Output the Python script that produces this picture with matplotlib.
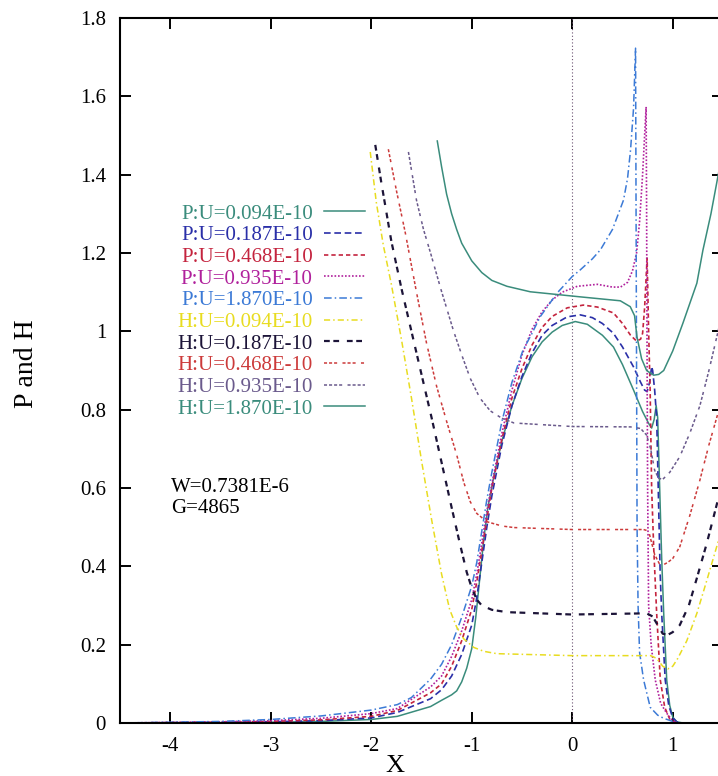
import matplotlib
matplotlib.use("Agg")
import matplotlib.pyplot as plt
from matplotlib.ticker import FormatStrFormatter, MultipleLocator

plt.rcParams["font.family"] = ["Liberation Serif", "DejaVu Serif"]

# pressure curves P
p1_x = [-4.5, -3.5, -3.0, -2.5, -2.0, -1.74, -1.41, -1.3, -1.2, -1.15, -1.1, -1.05, -1.0,
        -0.96, -0.92, -0.88, -0.84, -0.78, -0.7, -0.6, -0.5, -0.4, -0.3, -0.2, -0.1, 0.03,
        0.15, 0.3, 0.41, 0.5, 0.61, 0.7, 0.76, 0.79, 0.815, 0.835, 0.85, 0.87, 0.89, 0.91,
        0.94, 0.97, 1.0, 1.04, 1.1, 1.5]
p1_y = [0.0, 0.001, 0.002, 0.004, 0.009, 0.017, 0.042, 0.058, 0.072, 0.082, 0.105, 0.14, 0.19,
        0.27, 0.37, 0.47, 0.55, 0.63, 0.72, 0.81, 0.88, 0.935, 0.973, 0.998, 1.015, 1.025,
        1.018, 0.99, 0.96, 0.915, 0.85, 0.795, 0.765, 0.753, 0.775, 0.81, 0.78, 0.6, 0.42, 0.28,
        0.11, 0.045, 0.015, 0.003, 0.0, 0.0]

p2_x = [-4.5, -3.5, -3.0, -2.5, -2.0, -1.74, -1.41, -1.3, -1.2, -1.1, -1.0, -0.95, -0.9,
        -0.85, -0.8, -0.7, -0.6, -0.5, -0.4, -0.3, -0.2, -0.05, 0.08, 0.2, 0.3, 0.41, 0.5,
        0.61, 0.68, 0.72, 0.745, 0.77, 0.79, 0.80, 0.82, 0.84, 0.86, 0.875, 0.89, 0.925, 0.96,
        1.0, 1.04, 1.1, 1.5]
p2_y = [0.0, 0.002, 0.003, 0.006, 0.013, 0.027, 0.062, 0.085, 0.12, 0.175, 0.25, 0.32, 0.41,
        0.5, 0.58, 0.71, 0.81, 0.885, 0.945, 0.99, 1.015, 1.037, 1.042, 1.035, 1.02, 0.995, 0.96,
        0.909, 0.87, 0.85, 0.846, 0.87, 0.91, 0.90, 0.85, 0.78, 0.55, 0.38, 0.28, 0.11, 0.045,
        0.013, 0.003, 0.0, 0.0]

p3_x = [-4.5, -3.5, -3.0, -2.5, -2.0, -1.74, -1.41, -1.3, -1.2, -1.1, -1.0, -0.95, -0.9,
        -0.85, -0.8, -0.7, -0.6, -0.5, -0.4, -0.3, -0.2, -0.05, 0.11, 0.25, 0.41, 0.5, 0.58,
        0.64, 0.68, 0.70, 0.72, 0.745, 0.76, 0.775, 0.79, 0.81, 0.84, 0.876, 0.92, 0.97, 1.02,
        1.08, 1.5]
p3_y = [0.0, 0.002, 0.004, 0.008, 0.017, 0.032, 0.077, 0.10, 0.145, 0.21, 0.29, 0.36, 0.44,
        0.52, 0.60, 0.725, 0.83, 0.905, 0.965, 1.01, 1.038, 1.06, 1.067, 1.062, 1.047, 1.02, 0.99,
        0.975, 0.98, 0.995, 1.06, 1.187, 1.0, 0.85, 0.6, 0.45, 0.28, 0.11, 0.04, 0.01, 0.002,
        0.0, 0.0]

p4_x = [-4.5, -3.5, -3.0, -2.5, -2.0, -1.74, -1.41, -1.3, -1.2, -1.1, -1.0, -0.95, -0.9,
        -0.85, -0.8, -0.7, -0.6, -0.5, -0.4, -0.3, -0.2, -0.1, 0.05, 0.25, 0.4, 0.48, 0.55,
        0.6, 0.64, 0.67, 0.70, 0.72, 0.735, 0.74, 0.745, 0.75, 0.76, 0.785, 0.826, 0.88, 0.94,
        1.0, 1.05, 1.5]
p4_y = [0.0, 0.003, 0.006, 0.012, 0.024, 0.037, 0.092, 0.12, 0.17, 0.235, 0.315, 0.38, 0.46,
        0.54, 0.61, 0.74, 0.85, 0.94, 1.005, 1.05, 1.08, 1.1, 1.115, 1.12, 1.113, 1.113, 1.125,
        1.155, 1.2, 1.28, 1.4, 1.5, 1.573, 1.3, 0.9, 0.6, 0.3, 0.2, 0.11, 0.05, 0.025, 0.005,
        0.0, 0.0]

p5_x = [-4.5, -4.0, -3.5, -3.0, -2.5, -2.0, -1.74, -1.6, -1.41, -1.3, -1.2, -1.1, -1.0,
        -0.95, -0.9, -0.85, -0.8, -0.7, -0.6, -0.49, -0.4, -0.32, -0.15, 0.0, 0.08, 0.2, 0.28,
        0.4, 0.51, 0.55, 0.58, 0.61, 0.63, 0.635, 0.64, 0.645, 0.655, 0.67, 0.71, 0.776, 0.85,
        0.91, 1.0, 1.06, 1.5]
p5_y = [0.0, 0.002, 0.004, 0.009, 0.018, 0.033, 0.047, 0.065, 0.112, 0.15, 0.20, 0.27, 0.35,
        0.41, 0.49, 0.57, 0.64, 0.77, 0.87, 0.952, 0.995, 1.037, 1.098, 1.14, 1.157, 1.185,
        1.208, 1.26, 1.335, 1.39, 1.463, 1.57, 1.723, 1.3, 0.9, 0.5, 0.3, 0.18, 0.11, 0.04,
        0.02, 0.012, 0.004, 0.0, 0.0]

# film thickness curves H
h1_x = [-2.01, -1.95, -1.88, -1.80, -1.70, -1.60, -1.50, -1.40, -1.30, -1.22, -1.15, -1.08,
        -0.98, -0.88, -0.75, 0.0, 0.78, 0.84, 0.90, 0.95, 1.0, 1.05, 1.14, 1.24, 1.34, 1.46]
h1_y = [1.458, 1.33, 1.22, 1.12, 0.98, 0.83, 0.67, 0.52, 0.38, 0.29, 0.245, 0.215,
        0.193, 0.183, 0.177, 0.172, 0.172, 0.165, 0.145, 0.138, 0.145, 0.165, 0.21, 0.28,
        0.365, 0.47]

h2_x = [-1.96, -1.90, -1.80, -1.70, -1.60, -1.50, -1.40, -1.30, -1.20, -1.12, -1.05, -1.0,
        -0.95, -0.9, -0.8, -0.65, 0.0, 0.74, 0.80, 0.85, 0.90, 0.95, 1.0, 1.07, 1.16, 1.24,
        1.34, 1.46]
h2_y = [1.476, 1.38, 1.23, 1.11, 1.0, 0.89, 0.78, 0.665, 0.55, 0.46, 0.385, 0.345,
        0.315, 0.30, 0.289, 0.283, 0.277, 0.28, 0.272, 0.25, 0.228, 0.225, 0.232, 0.25, 0.30,
        0.37, 0.46, 0.58]

h3_x = [-1.83, -1.75, -1.66, -1.55, -1.45, -1.35, -1.25, -1.15, -1.08, -1.015, -0.95,
        -0.85, -0.7, -0.58, 0.0, 0.71, 0.76, 0.78, 0.82, 0.87, 0.90, 0.95, 1.0, 1.07, 1.17,
        1.27, 1.36, 1.46]
h3_y = [1.465, 1.36, 1.25, 1.10, 0.97, 0.86, 0.77, 0.685, 0.615, 0.565, 0.535,
        0.514, 0.503, 0.499, 0.494, 0.494, 0.49, 0.47, 0.43, 0.405, 0.403, 0.41, 0.42, 0.45,
        0.53, 0.62, 0.71, 0.80]

h4_x = [-1.63, -1.55, -1.48, -1.41, -1.31, -1.18, -1.1, -1.015, -0.92, -0.816, -0.7, -0.58,
        0.0, 0.58, 0.68, 0.74, 0.78, 0.82, 0.86, 0.90, 0.97, 1.07, 1.17, 1.27, 1.36, 1.46]
h4_y = [1.458, 1.335, 1.26, 1.20, 1.11, 1.0, 0.94, 0.88, 0.83, 0.797, 0.778, 0.766,
        0.757, 0.756, 0.752, 0.735, 0.70, 0.645, 0.625, 0.622, 0.64, 0.68, 0.74, 0.81, 0.90,
        1.01]

h5_x = [-1.343, -1.30, -1.25, -1.20, -1.15, -1.10, -1.0, -0.9, -0.8, -0.65, -0.418, 0.08,
        0.478, 0.577, 0.62, 0.644, 0.69, 0.74, 0.81, 0.86, 0.91, 1.0, 1.1, 1.24, 1.30, 1.38,
        1.46]
h5_y = [1.486, 1.42, 1.35, 1.30, 1.26, 1.225, 1.18, 1.15, 1.13, 1.115, 1.101, 1.088,
        1.078, 1.063, 1.04, 0.986, 0.93, 0.90, 0.888, 0.89, 0.90, 0.95, 1.02, 1.123, 1.207,
        1.30, 1.41]

labels = ["P:U=0.094E-10", "P:U=0.187E-10", "P:U=0.468E-10", "P:U=0.935E-10",
          "P:U=1.870E-10", "H:U=0.094E-10", "H:U=0.187E-10", "H:U=0.468E-10",
          "H:U=0.935E-10", "H:U=1.870E-10"]
series_x = [p1_x, p2_x, p3_x, p4_x, p5_x, h1_x, h2_x, h3_x, h4_x, h5_x]
series_y = [p1_y, p2_y, p3_y, p4_y, p5_y, h1_y, h2_y, h3_y, h4_y, h5_y]

COLORS = ["#3a8c7c", "#2a2fa8", "#c4243e", "#b0209c", "#3c7ad6",
          "#e8dc20", "#1c1438", "#cc3a3a", "#6a5a8c", "#3a8c7c"]
DASHES = [None, (4, 2.2), (2.6, 1.8), (1, 1.1), (5, 2, 1, 2),
          (4, 2, 1, 2), (2.6, 1.6, 2.6, 3.5), (2, 1.3, 2, 1.3, 2, 3.5),
          (2, 1.3, 2, 1.3, 2, 1.3, 2, 3.5), None]
WIDTHS = [1.1, 1.2, 1.2, 1.2, 1.1, 1.1, 1.6, 1.1, 1.1, 1.1]

fig = plt.figure(figsize=(7.18, 7.76), dpi=100)
ax = fig.add_axes([120 / 718, 53 / 776, 603 / 718, 705 / 776])

ax.axvline(0, color="#6a5070", linestyle=(0, (1, 2)), linewidth=0.8)

for xs, ys, lab, c, d, w in zip(series_x, series_y, labels, COLORS, DASHES, WIDTHS):
    line, = ax.plot(xs, ys, color=c, linewidth=w, label=lab)
    if d is not None:
        line.set_dashes(d)

ax.set_xlim(-4.5, 1.5)
ax.set_ylim(0, 1.8)
ax.xaxis.set_major_locator(MultipleLocator(1))
ax.yaxis.set_major_locator(MultipleLocator(0.2))
ax.xaxis.set_major_formatter(FormatStrFormatter("%g"))
ax.yaxis.set_major_formatter(FormatStrFormatter("%g"))
ax.tick_params(direction="in", length=8, width=1.4, top=True, right=True,
               labelsize=15, pad=10)
for s in ax.spines.values():
    s.set_linewidth(1.5)

ax.set_xlabel("X", fontsize=19)
ax.xaxis.set_label_coords(0.456, -0.045)
ax.set_ylabel("P and H", fontsize=20)
ax.yaxis.set_label_coords(-0.135, 0.51)

ax.text(-3.99, 0.60, "W=0.7381E-6", fontsize=15, va="center", ha="left")
ax.text(-3.99, 0.547, "G=4865", fontsize=15, va="center", ha="left")

ax.legend(loc="upper right", bbox_to_anchor=(0.406, 0.736), fontsize=15,
          frameon=False, markerfirst=False, labelcolor="linecolor",
          labelspacing=0.10, handlelength=1.95, handletextpad=0.55,
          borderpad=0, borderaxespad=0)

fig.savefig("out.png", dpi=100)
